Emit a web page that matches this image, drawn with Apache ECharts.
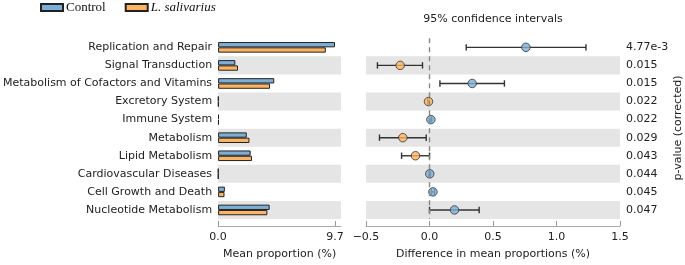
<!DOCTYPE html>
<html>
<head>
<meta charset="utf-8">
<script src="https://cdn.jsdelivr.net/npm/echarts@6/dist/echarts.min.js"></script>
<style>
html,body{margin:0;padding:0;background:#fff;}
#chart{width:685px;height:265px;}
</style>
</head>
<body>
<div id="chart"></div>
<script>
const categories = ['Replication and Repair','Signal Transduction','Metabolism of Cofactors and Vitamins','Excretory System','Immune System','Metabolism','Lipid Metabolism','Cardiovascular Diseases','Cell Growth and Death','Nucleotide Metabolism'];
const controlMean = [9.70, 1.43, 4.66, 0.03, 0.07, 2.38, 2.70, 0.02, 0.56, 4.28];
const salivariusMean = [8.94, 1.65, 4.31, 0.04, 0.06, 2.60, 2.81, 0.02, 0.53, 4.09];
const meanDiff = [0.759, -0.231, 0.336, -0.008, 0.011, -0.210, -0.110, 0.002, 0.027, 0.197];
const ciLow = [0.289, -0.410, 0.082, -0.014, 0.004, -0.394, -0.220, -0.002, 0.015, 0.000];
const ciHigh = [1.232, -0.055, 0.590, -0.002, 0.018, -0.026, 0.000, 0.006, 0.039, 0.391];
const pValues = ['4.77e-3','0.015','0.015','0.022','0.022','0.029','0.043','0.044','0.045','0.047'];
const leftTicks = [0, 9.7];
const groupNames = ['Control', 'L. salivarius'];

const BLUE = '#7cafd6';
const ORANGE = '#fdb462';
const EDGE = '#222222';
const FONT = 'DejaVu Sans';
const BAND = '#e5e5e5';

const chart = echarts.init(document.getElementById('chart'), null, {renderer: 'canvas'});

const gridTop = 38.3, gridH = 183.3;

const option = {
  animation: false,
  backgroundColor: '#fff',
  textStyle: {fontFamily: FONT},
  legend: {
    left: 40, top: 1, padding: 0,
    itemWidth: 22, itemHeight: 7, itemGap: 19,
    icon: 'rect',
    itemStyle: {borderColor: EDGE, borderWidth: 2},
    textStyle: {fontFamily: 'Liberation Serif', fontSize: 13, color: '#111', padding: [0, 0, 0, -2],
      rich: {i: {fontFamily: 'Liberation Serif', fontSize: 13, fontStyle: 'italic', color: '#111'}}},
    formatter: function (n) { return n === groupNames[1] ? '{i|' + n + '}' : n; },
    data: groupNames
  },
  grid: [
    {left: 215.7, top: gridTop, width: 125.3, height: gridH},
    {left: 366, top: gridTop, width: 254, height: gridH}
  ],
  xAxis: [
    {
      gridIndex: 0, type: 'value', min: 0, max: 10.2, offset: 7,
      splitLine: {show: false},
      axisLine: {show: true, lineStyle: {color: '#aaaaaa', width: 1}},
      axisTick: {show: true, inside: true, length: 5, customValues: leftTicks, lineStyle: {color: '#999999'}},
      axisLabel: {customValues: leftTicks, margin: 6, fontSize: 11, color: '#222', fontFamily: FONT,
        formatter: function (v) { return v.toFixed(1); }},
      name: 'Mean proportion (%)', nameLocation: 'middle', nameGap: 23,
      nameTextStyle: {fontSize: 11, color: '#222', fontFamily: FONT}
    },
    {
      gridIndex: 1, type: 'value', min: -0.5, max: 1.5, interval: 0.5, offset: 7,
      splitLine: {show: false},
      axisLine: {show: true, onZero: false, lineStyle: {color: '#aaaaaa', width: 1}},
      axisTick: {show: true, inside: true, length: 5, lineStyle: {color: '#999999'}},
      axisLabel: {margin: 6, fontSize: 11, color: '#222', fontFamily: FONT,
        formatter: function (v) { return v.toFixed(1).replace('-', '\u2212'); }},
      name: 'Difference in mean proportions (%)', nameLocation: 'middle', nameGap: 23,
      nameTextStyle: {fontSize: 11, color: '#222', fontFamily: FONT}
    }
  ],
  yAxis: [
    {
      gridIndex: 0, type: 'category', data: categories, inverse: true,
      axisLine: {show: false}, axisTick: {show: false},
      axisLabel: {fontSize: 11, color: '#222', fontFamily: FONT, margin: 6},
      splitArea: {show: true, areaStyle: {color: ['rgba(0,0,0,0)', BAND]}}
    },
    {
      gridIndex: 1, type: 'category', data: categories, inverse: true,
      axisLine: {show: false}, axisTick: {show: false}, axisLabel: {show: false},
      splitArea: {show: true, areaStyle: {color: ['rgba(0,0,0,0)', BAND]}}
    },
    {
      gridIndex: 1, type: 'category', data: categories, inverse: true, position: 'right',
      axisLine: {show: false}, axisTick: {show: false},
      axisLabel: {fontSize: 11, color: '#222', fontFamily: FONT, margin: 6,
        formatter: function (v, i) { return pValues[i]; }},
      splitArea: {show: false}
    }
  ],
  series: [
    {
      name: groupNames[0], type: 'bar', xAxisIndex: 0, yAxisIndex: 0,
      data: controlMean, barWidth: 5.3, barGap: '0%',
      itemStyle: {color: BLUE, borderColor: EDGE, borderWidth: 1}
    },
    {
      name: groupNames[1], type: 'bar', xAxisIndex: 0, yAxisIndex: 0,
      data: salivariusMean, barWidth: 5.3, barGap: '0%',
      itemStyle: {color: ORANGE, borderColor: EDGE, borderWidth: 1}
    },
    {
      type: 'custom', xAxisIndex: 1, yAxisIndex: 1, silent: true, z: 3,
      data: categories.map(function (c, i) { return [ciLow[i], ciHigh[i], i]; }),
      encode: {x: [0, 1], y: 2},
      renderItem: function (params, api) {
        const y = api.value(2);
        const p0 = api.coord([api.value(0), y]);
        const p1 = api.coord([api.value(1), y]);
        const cap = 3.2;
        const st = {stroke: '#333', lineWidth: 1.4};
        return {type: 'group', children: [
          {type: 'line', shape: {x1: p0[0], y1: p0[1], x2: p1[0], y2: p1[1]}, style: st},
          {type: 'line', shape: {x1: p0[0], y1: p0[1] - cap, x2: p0[0], y2: p0[1] + cap}, style: st},
          {type: 'line', shape: {x1: p1[0], y1: p1[1] - cap, x2: p1[0], y2: p1[1] + cap}, style: st}
        ]};
      }
    },
    {
      type: 'scatter', xAxisIndex: 1, yAxisIndex: 1, z: 4,
      symbol: 'circle', symbolSize: 8.5,
      data: meanDiff.map(function (d, i) {
        return {value: [d, i], itemStyle: {color: d >= 0 ? BLUE : ORANGE}};
      }),
      itemStyle: {borderColor: '#333', borderWidth: 1},
      markLine: {
        silent: true, symbol: ['none', 'none'], label: {show: false},
        lineStyle: {type: [5, 4], color: '#888', width: 1.4},
        data: [{xAxis: 0}]
      }
    }
  ],
  graphic: [
    {type: 'text', x: 493, y: 19, style: {text: '95% confidence intervals',
      fontFamily: FONT, fontSize: 11, fill: '#222', align: 'center', verticalAlign: 'middle'}},
    {type: 'text', x: 678, y: 128, rotation: Math.PI / 2, style: {text: 'p-value (corrected)',
      fontFamily: FONT, fontSize: 11, fill: '#222', align: 'center', verticalAlign: 'middle'}}
  ]
};
chart.setOption(option);
</script>
</body>
</html>
